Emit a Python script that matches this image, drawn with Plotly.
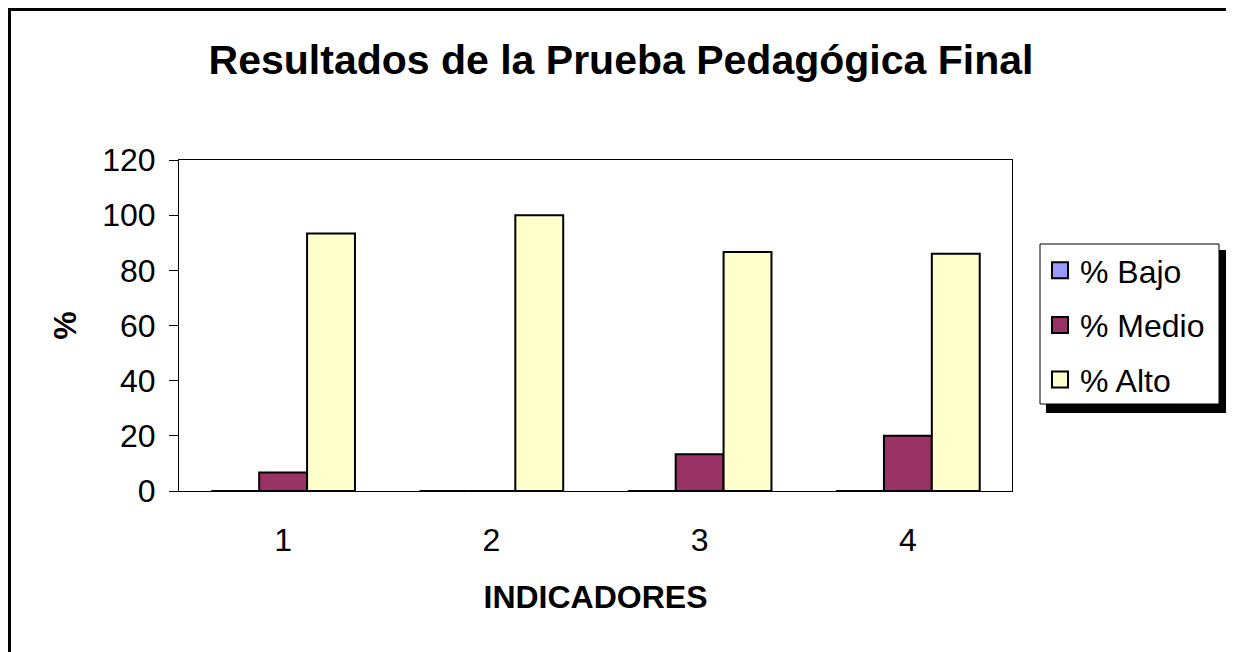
import plotly.graph_objects as go

categories = ["1", "2", "3", "4"]
bajo = [0, 0, 0, 0]
medio = [6.67, 0, 13.33, 20]
alto = [93.33, 100, 86.67, 86]
series_names = ["% Bajo", "% Medio", "% Alto"]
colors = ["#9999FF", "#993366", "#FFFFCC"]
y_ticks = [0, 20, 40, 60, 80, 100, 120]

# the page body has an 8px margin, so the figure is placed 8px in
OFF = 8
W, H = 1234 - OFF, 652 - OFF
L, R, T, B = 179 - OFF, 1012 - OFF, 160 - OFF, 491 - OFF

def px(x):
    return (x - OFF - L) / (R - L)

def py(y):
    return (B - (y - OFF)) / (B - T)

FONT = "Liberation Sans, Arial, sans-serif"

fig = go.Figure()
for name, vals, col in zip(series_names, [bajo, medio, alto], colors):
    fig.add_trace(go.Bar(
        x=categories, y=vals, name=name, legendgroup=name, showlegend=False,
        marker=dict(color=col, line=dict(color="black", width=2)),
    ))
# legend entries (larger square swatches, as in the reference)
for name, col in zip(series_names, colors):
    fig.add_trace(go.Scatter(
        x=[None], y=[None], mode="markers", name=name, legendgroup=name,
        marker=dict(symbol="square", size=16, color=col,
                    line=dict(color="black", width=2)),
    ))

shapes = [
    dict(type="rect", xref="paper", yref="paper",
         x0=px(9.5), x1=px(1229), y0=py(665), y1=py(9.5),
         line=dict(color="black", width=3), fillcolor="rgba(0,0,0,0)", layer="above"),
    dict(type="rect", xref="paper", yref="paper",
         x0=px(1046), x1=px(1227), y0=py(413), y1=py(250),
         line=dict(width=0), fillcolor="black", layer="above"),
    dict(type="rect", xref="paper", yref="paper",
         x0=px(1040), x1=px(1219), y0=py(404), y1=py(244),
         line=dict(color="black", width=1), fillcolor="white", layer="above"),
]

fig.update_layout(
    width=W, height=H,
    margin=dict(l=L, r=W - R, t=T, b=H - B),
    paper_bgcolor="white", plot_bgcolor="white",
    font=dict(family=FONT, size=32, color="black"),
    title=dict(text="<b>Resultados de la Prueba Pedagógica Final</b>",
               x=(621 - OFF) / W, xanchor="center", y=1 - (60 - OFF) / H, yanchor="middle",
               font=dict(size=41, family=FONT, color="black")),
    barmode="group", bargap=0.31, bargroupgap=0,
    showlegend=True,
    legend=dict(x=px(1040), xanchor="left", y=py(243), yanchor="top",
                bgcolor="rgba(0,0,0,0)", borderwidth=0, itemsizing="trace",
                font=dict(size=32, family=FONT), tracegroupgap=10,
                itemclick=False),
    shapes=shapes,
    xaxis=dict(showline=True, linecolor="black", linewidth=1, mirror=True,
               ticks="", showgrid=False, ticklabelstandoff=21,
               title=dict(text="<b>INDICADORES</b>", standoff=28,
                          font=dict(size=32, family=FONT))),
    yaxis=dict(range=[0, 120], tickvals=y_ticks, showline=True, linecolor="black",
               linewidth=1, mirror=True, ticks="outside", ticklen=9, tickcolor="black",
               showgrid=False, zeroline=False, ticklabelstandoff=7,
               title=dict(text="<b>%</b>", standoff=16,
                          font=dict(size=32, family=FONT))),
)

fig.write_html("out.html")
